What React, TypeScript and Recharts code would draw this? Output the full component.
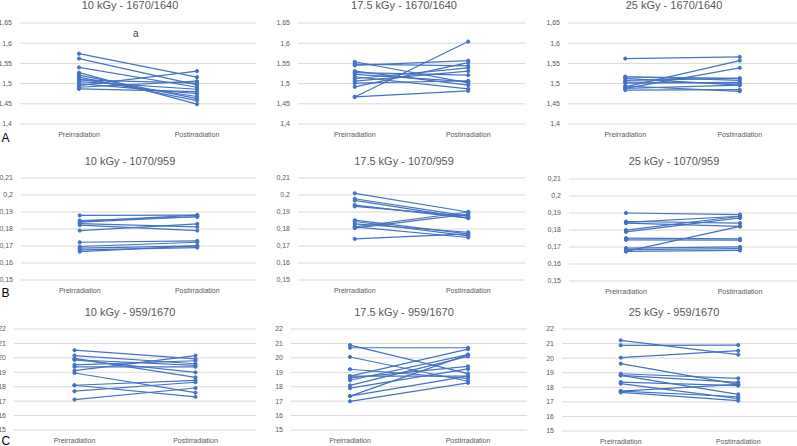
import { LineChart, Line, XAxis, YAxis, CartesianGrid } from "recharts";

const stages = ["Preirradiation", "Postirradiation"];

const ticks1670 = [1.4, 1.45, 1.5, 1.55, 1.6, 1.65];
const ticks1070 = [0.15, 0.16, 0.17, 0.18, 0.19, 0.2, 0.21];
const ticks959 = [15, 16, 17, 18, 19, 20, 21, 22];

// 1670/1640
const r1670k10Pre = [1.574, 1.562, 1.54, 1.527, 1.521, 1.516, 1.511, 1.505, 1.5, 1.495, 1.491, 1.487, 1.509];
const r1670k10Post = [1.516, 1.497, 1.491, 1.449, 1.463, 1.458, 1.468, 1.486, 1.475, 1.531, 1.506, 1.48, 1.501];
const r1670k17Pre = [1.467, 1.467, 1.554, 1.548, 1.545, 1.531, 1.527, 1.517, 1.512, 1.506, 1.501, 1.492, 1.523];
const r1670k17Post = [1.604, 1.482, 1.502, 1.544, 1.557, 1.496, 1.521, 1.487, 1.539, 1.531, 1.507, 1.552, 1.505];
const r1670k25Pre = [1.562, 1.492, 1.488, 1.517, 1.513, 1.508, 1.504, 1.501, 1.494, 1.484, 1.488, 1.517];
const r1670k25Post = [1.566, 1.557, 1.539, 1.508, 1.496, 1.513, 1.501, 1.503, 1.481, 1.485, 1.496, 1.513];

// 1070/959
const r1070k10Pre = [0.188, 0.185, 0.184, 0.1832, 0.1823, 0.1791, 0.1722, 0.1697, 0.1687, 0.1677, 0.1667, 0.1845];
const r1070k10Post = [0.1882, 0.1872, 0.1872, 0.1813, 0.1791, 0.183, 0.173, 0.1722, 0.1701, 0.1691, 0.1701, 0.1882];
const r1070k17Pre = [0.201, 0.1978, 0.1968, 0.1941, 0.1933, 0.1852, 0.1844, 0.183, 0.1813, 0.1805, 0.1742, 0.1813];
const r1070k17Post = [0.19, 0.1876, 0.1864, 0.1864, 0.1876, 0.1771, 0.176, 0.1781, 0.19, 0.1888, 0.1771, 0.175];
const r1070k25Pre = [0.19, 0.185, 0.184, 0.1799, 0.1789, 0.1752, 0.1742, 0.1693, 0.1684, 0.1674, 0.1674, 0.1845];
const r1070k25Post = [0.1891, 0.184, 0.1821, 0.1881, 0.1871, 0.1748, 0.174, 0.1701, 0.169, 0.1821, 0.168, 0.1881];

// 959/1670
const r959k10Pre = [20.53, 20.16, 19.96, 19.87, 19.52, 19.38, 19.11, 18.95, 18.1, 18.1, 17.69, 17.11, 19.87];
const r959k10Post = [19.93, 19.59, 18.65, 19.48, 19.8, 19.38, 20.16, 17.59, 18.44, 17.3, 18.31, 17.91, 18.99];
const r959k17Pre = [20.88, 20.7, 20.06, 19.21, 18.73, 18.61, 18.45, 18.09, 17.9, 17.35, 17.35, 16.99, 18.73];
const r959k17Post = [18.91, 20.7, 18.38, 18.57, 20.6, 19.41, 20.22, 20.1, 19.23, 20.22, 18.73, 18.27, 18.73];
const r959k25Pre = [21.22, 20.88, 20.03, 19.62, 18.93, 18.82, 18.82, 18.36, 18.25, 17.74, 17.65, 17.74];
const r959k25Post = [20.24, 20.9, 20.51, 18.2, 18.61, 17.51, 18.34, 18.11, 17.22, 18.2, 17.08, 17.35];

const BLUE = "#4472C4";
const GREY = "#595959";
const FONT = "'Liberation Sans', Arial, sans-serif";

const cols = [
  { left: 0, width: 265 },
  { left: 265, width: 265 },
  { left: 530, width: 267 },
];

function pairData(pre: number[], post: number[]) {
  return stages.map((stage, i) => {
    const row: Record<string, any> = { stage };
    (i === 0 ? pre : post).forEach((v, k) => {
      row["s" + k] = v;
    });
    return row;
  });
}

const fmt = (v: number) => String(v).replace(".", ",");

type PanelProps = {
  title: string;
  pre: number[];
  post: number[];
  ticks: number[];
  col: number;
  plotLeft: number;
  plotRight: number;
  top: number;
  bottom: number;
  titleX: number;
  titleBase: number;
};

function Panel({ title, pre, post, ticks, col, plotLeft, plotRight, top, bottom, titleX, titleBase }: PanelProps) {
  const c = cols[col];
  const padTop = 10;
  const plotW = plotRight - plotLeft;
  const h = padTop + (bottom - top) + 25;
  return (
    <>
      <div
        style={{
          position: "absolute",
          left: titleX,
          top: titleBase - 9.3,
          transform: "translateX(-50%)",
          whiteSpace: "nowrap",
          fontFamily: FONT,
          fontSize: 11,
          lineHeight: "11px",
          color: GREY,
        }}
      >
        {title}
      </div>
      <div style={{ position: "absolute", left: c.left, top: top - padTop }}>
        <LineChart
          width={c.width}
          height={h}
          data={pairData(pre, post)}
          margin={{ top: padTop, right: c.left + c.width - plotRight, bottom: 0, left: 0 }}
        >
          <CartesianGrid vertical={false} stroke="#d9d9d9" />
          <XAxis
            dataKey="stage"
            axisLine={false}
            tickLine={false}
            height={25}
            interval={0}
            padding={{ left: plotW / 4, right: plotW / 4 }}
            tick={{ fontSize: 7, fill: GREY, fontFamily: FONT }}
          />
          <YAxis
            width={plotLeft - c.left}
            domain={[ticks[0], ticks[ticks.length - 1]]}
            ticks={ticks}
            interval={0}
            axisLine={false}
            tickLine={false}
            tickFormatter={fmt}
            tick={{ fontSize: 7, fill: GREY, fontFamily: FONT }}
          />
          {pre.map((_, k) => (
            <Line
              key={k}
              type="linear"
              dataKey={"s" + k}
              stroke={BLUE}
              strokeWidth={1.2}
              dot={{ r: 1.6, fill: BLUE, stroke: BLUE, strokeWidth: 1 }}
              activeDot={false}
              isAnimationActive={false}
            />
          ))}
        </LineChart>
      </div>
    </>
  );
}

const letterStyle = {
  position: "absolute" as const,
  fontFamily: FONT,
  fontSize: 12,
  lineHeight: "12px",
  color: "#000",
};

export default function App() {
  return (
    <div style={{ position: "absolute", left: 0, top: 0, width: 797, height: 446, overflow: "hidden", background: "#fff" }}>
      <Panel title="10 kGy - 1670/1640" pre={r1670k10Pre} post={r1670k10Post} ticks={ticks1670} col={0} plotLeft={20} plotRight={256} top={23} bottom={124} titleX={130} titleBase={9.3} />
      <Panel title="17.5 kGy - 1670/1640" pre={r1670k17Pre} post={r1670k17Post} ticks={ticks1670} col={1} plotLeft={298} plotRight={525} top={23} bottom={124} titleX={404} titleBase={9.3} />
      <Panel title="25 kGy - 1670/1640" pre={r1670k25Pre} post={r1670k25Post} ticks={ticks1670} col={2} plotLeft={568} plotRight={797} top={23} bottom={124} titleX={674} titleBase={9.3} />

      <Panel title="10 kGy - 1070/959" pre={r1070k10Pre} post={r1070k10Post} ticks={ticks1070} col={0} plotLeft={21} plotRight={256} top={178} bottom={280} titleX={130} titleBase={165} />
      <Panel title="17.5 kGy - 1070/959" pre={r1070k17Pre} post={r1070k17Post} ticks={ticks1070} col={1} plotLeft={298} plotRight={525} top={178} bottom={280} titleX={404} titleBase={165} />
      <Panel title="25 kGy - 1070/959" pre={r1070k25Pre} post={r1070k25Post} ticks={ticks1070} col={2} plotLeft={569} plotRight={797} top={179} bottom={281} titleX={674} titleBase={165} />

      <Panel title="10 kGy - 959/1670" pre={r959k10Pre} post={r959k10Post} ticks={ticks959} col={0} plotLeft={14} plotRight={256} top={329} bottom={430} titleX={130} titleBase={316} />
      <Panel title="17.5 kGy - 959/1670" pre={r959k17Pre} post={r959k17Post} ticks={ticks959} col={1} plotLeft={291} plotRight={527} top={329} bottom={430} titleX={404} titleBase={316} />
      <Panel title="25 kGy - 959/1670" pre={r959k25Pre} post={r959k25Post} ticks={ticks959} col={2} plotLeft={562} plotRight={797} top={329} bottom={431} titleX={674} titleBase={316} />

      <div style={{ position: "absolute", left: 133, top: 28.5, fontFamily: FONT, fontSize: 10, lineHeight: "10px", color: "#404040" }}>a</div>
      <div style={{ ...letterStyle, left: 1.5, top: 131.5 }}>A</div>
      <div style={{ ...letterStyle, left: 1.5, top: 287.3 }}>B</div>
      <div style={{ ...letterStyle, left: 1.5, top: 434.5 }}>C</div>
    </div>
  );
}
